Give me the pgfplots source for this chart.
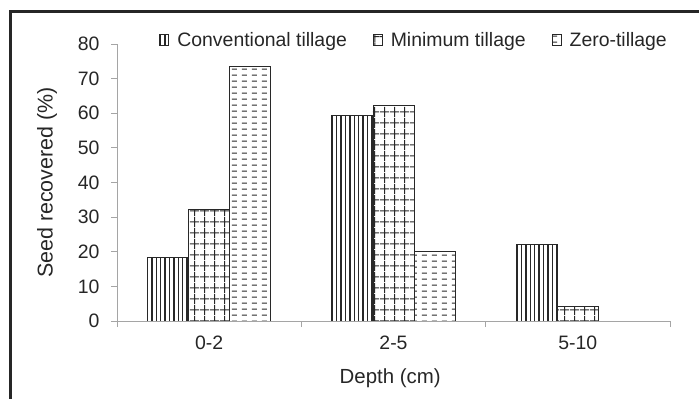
\documentclass[border=0pt]{standalone}
\usepackage{pgfplots}
\pgfplotsset{compat=1.18}
\usetikzlibrary{patterns}
\usepackage{fontspec}
\setmainfont{Liberation Sans}

\pgfdeclarepatternformonly{cvl}{\pgfpoint{0bp}{-1bp}}{\pgfpoint{4.4bp}{5.4bp}}{\pgfpoint{4.4bp}{4.4bp}}{%
  \pgfsetlinewidth{1.4bp}\pgfpathmoveto{\pgfpoint{2.2bp}{-1bp}}\pgfpathlineto{\pgfpoint{2.2bp}{5.4bp}}\pgfusepath{stroke}}
\pgfdeclarepatternformonly{mgrid}{\pgfpoint{0bp}{0bp}}{\pgfpoint{10bp}{10.5bp}}{\pgfpoint{10bp}{10.5bp}}{%
  \pgfsetlinewidth{1bp}\pgfpathmoveto{\pgfpoint{5bp}{0bp}}\pgfpathlineto{\pgfpoint{5bp}{10.5bp}}%
  \pgfpathmoveto{\pgfpoint{0bp}{5.25bp}}\pgfpathlineto{\pgfpoint{10bp}{5.25bp}}\pgfusepath{stroke}}
\pgfdeclarepatternformonly{zdash}{\pgfpoint{0bp}{0bp}}{\pgfpoint{10bp}{5.8bp}}{\pgfpoint{10bp}{5.8bp}}{%
  \pgfsetlinewidth{1bp}\pgfpathmoveto{\pgfpoint{2bp}{2.9bp}}\pgfpathlineto{\pgfpoint{7.5bp}{2.9bp}}\pgfusepath{stroke}}

\definecolor{axgray}{RGB}{165,165,165}
\definecolor{barline}{RGB}{40,40,40}

\begin{document}
\begin{tikzpicture}
\useasboundingbox (0bp,0bp) rectangle (699bp,399bp);
\draw[line width=3bp, color=black!85] (10.5bp,0bp) -- (10.5bp,387.5bp) -- (699bp,387.5bp);
\begin{axis}[
  at={(117bp,78bp)}, anchor=south west,
  scale only axis, width=553bp, height=277bp,
  xmin=-0.5, xmax=2.5, ymin=0, ymax=80,
  axis x line*=bottom, axis y line*=left,
  axis line style={draw=axgray, line width=1bp},
  tick style={draw=axgray, line width=1bp},
  major tick length=6bp, tick align=outside,
  ytick={0,10,...,80},
  xtick={-0.5,0.5,1.5,2.5},
  x tick label as interval,
  xticklabels={0-2,2-5,5-10},
  /pgf/number format/assume math mode=true,
  tick label style={font=\fontsize{19.5}{22}\selectfont, text=black!85},
  yticklabel style={xshift=-8bp},
  xticklabel style={yshift=-5bp},
  xlabel style={font=\fontsize{20.5}{22}\selectfont, text=black!85,
    at={(axis description cs:0.494,-0.2058)}, anchor=center},
  ylabel style={font=\fontsize{21.5}{24}\selectfont, text=black!85,
    at={(axis description cs:-0.1266,0.5)}, anchor=center},
  xlabel={Depth (cm)}, ylabel={Seed recovered (\%)},
  ybar=0pt, bar width=0.2228,
  legend style={at={(1,1)}, anchor=east, xshift=2bp, yshift=4bp, draw=none, fill=none,
    font=\fontsize{19.5}{22}\selectfont, text=black!85,
    legend columns=3,
    /tikz/every odd column/.append style={column sep=6bp},
    /tikz/every even column/.append style={column sep=24bp}},
  legend image code/.code={\draw[#1, line width=0.9bp] (0bp,-5.5bp) rectangle (9bp,5.5bp);},
]
\addplot[draw=barline, line width=0.9bp, pattern=cvl, pattern color=barline]
  coordinates {(0,18.3) (1,59.3) (2,22.2)};
\addplot[draw=barline, line width=0.9bp, pattern=mgrid, pattern color=barline]
  coordinates {(0,32.2) (1,62.2) (2,4.3)};
\addplot[draw=barline, line width=0.9bp, pattern=zdash, pattern color=barline]
  coordinates {(0,73.4) (1,20.0)};
\legend{Conventional tillage, Minimum tillage, Zero-tillage}
\end{axis}
\end{tikzpicture}
\end{document}
